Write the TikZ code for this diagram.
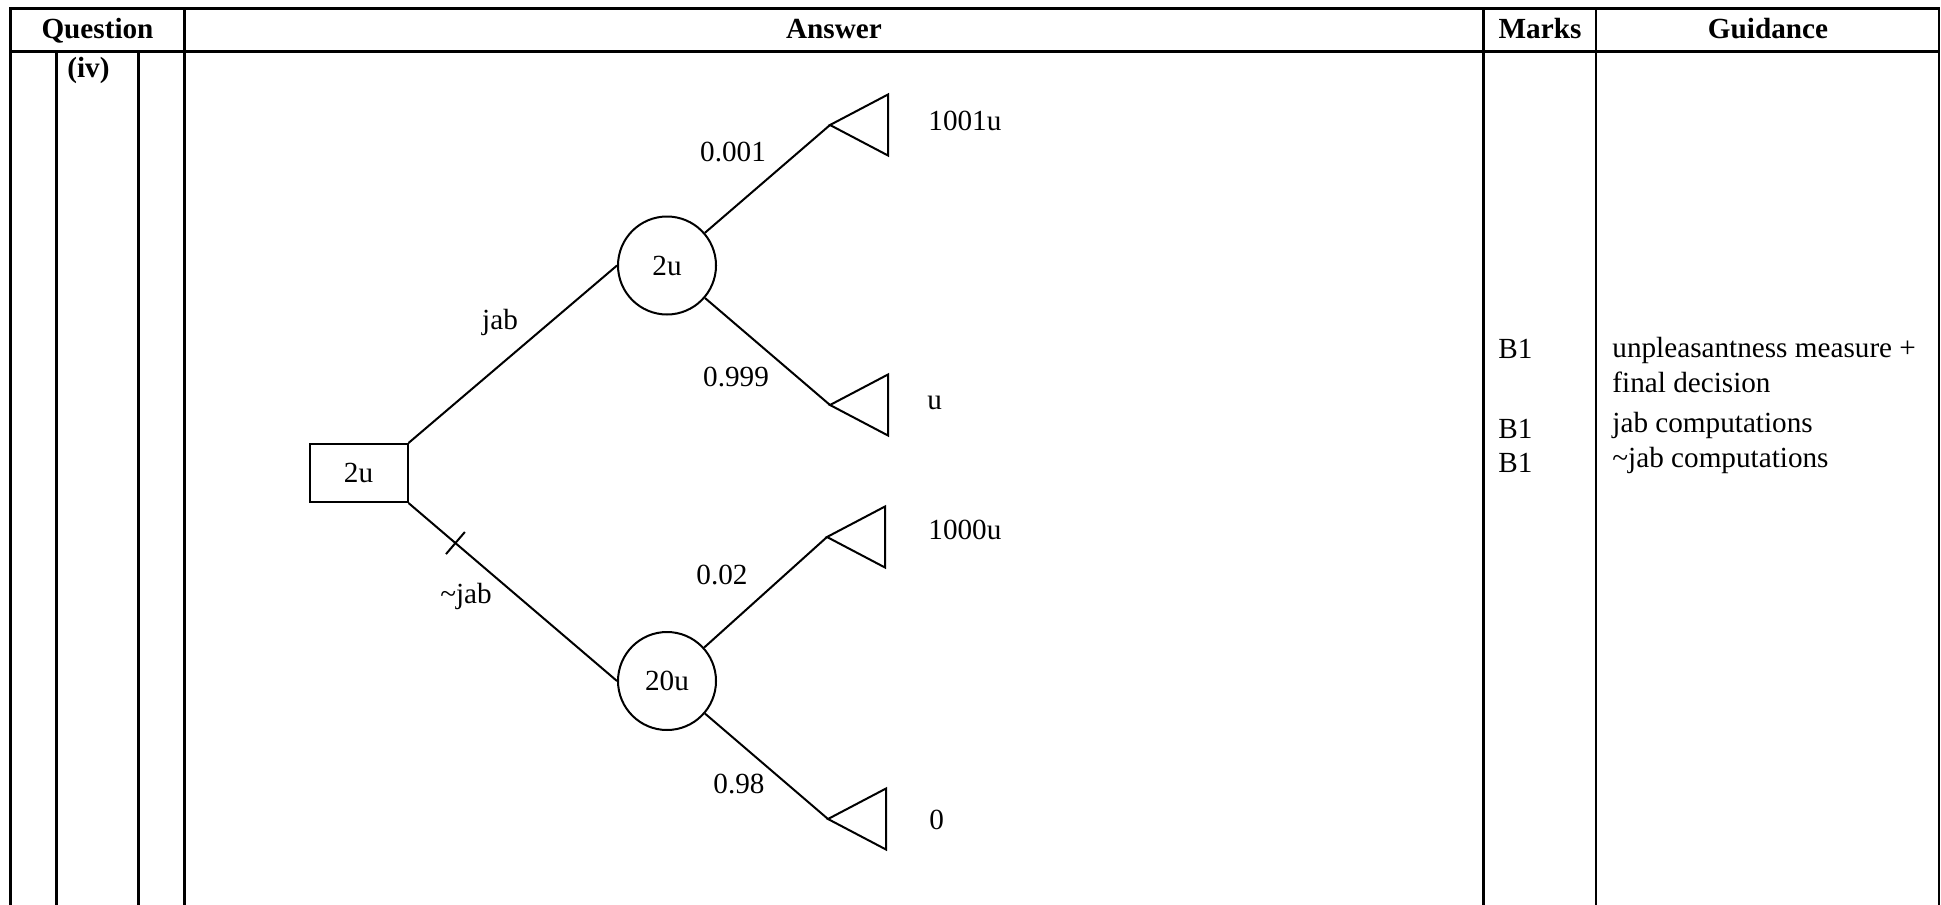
\documentclass[tikz,border=0pt]{standalone}
\usepackage{fontspec}
\setmainfont{Liberation Serif}
\usetikzlibrary{decorations.markings}
\begin{document}
\begin{tikzpicture}[x=0.5pt,y=-0.5pt,
  font=\fontsize{14.6pt}{17pt}\selectfont,
  grid/.style={line width=1.4pt, line cap=rect},
  tree/.style={line width=1pt},
  chance/.style={circle, draw, line width=1pt, minimum size=49pt, inner sep=0pt},
  decision/.style={rectangle, draw, line width=1pt, minimum width=49pt, minimum height=29pt, inner sep=0pt},
  lbl/.style={anchor=base, inner sep=0pt},
  lbll/.style={anchor=base west, inner sep=0pt},
  hdr/.style={anchor=base, inner sep=0pt, font=\fontsize{14.6pt}{17pt}\selectfont\bfseries}]
\useasboundingbox (0,0) rectangle (1941,904);
% table
\draw[grid] (10.5,8.5) -- (1939,8.5);
\draw[grid] (10.5,51.5) -- (1939,51.5);
\foreach \x in {10.5,184.5,1483.5,1596,1939} \draw[grid] (\x,8.5) -- (\x,906);
\foreach \x in {56.5,138.5} \draw[grid] (\x,51.5) -- (\x,906);
% headers
\node[hdr] (hq) at (97.5,39) {Question};
\node[hdr] (ha) at (834,39) {Answer};
\node[hdr] (hm) at (1540,39) {Marks};
\node[hdr] (hg) at (1768,39) {Guidance};
\node[hdr, anchor=base west] (qiv) at (67,78) {(iv)};
% tree nodes
\node[decision] (d) at (358.5,473) {2u};
\node[chance] (c1) at (667,265.5) {2u};
\node[chance] (c2) at (667,681) {20u};
\coordinate (t1) at (830,125);
\coordinate (t2) at (830,405);
\coordinate (t3) at (827,537);
\coordinate (t4) at (828,819);
\foreach \t in {t1,t2,t3,t4}
  \draw[tree, line join=miter] (\t) -- ++(58,-30.5) -- ++(0,61) -- cycle;
% connectors
\draw[tree] (d.north east) -- (c1.west);
\draw[tree, postaction=decorate, decoration={markings, mark=at position 0.225 with {\draw[line width=1pt] (0,-7.25pt) -- (0,7.25pt);}}] (d.south east) -- (c2.west);
\draw[tree] (c1) -- (t1);
\draw[tree] (c1) -- (t2);
\draw[tree] (c2) -- (t3);
\draw[tree] (c2) -- (t4);
% branch labels
\node[lbl] (l1) at (733,162) {0.001};
\node[lbl] (l2) at (500,329) {jab};
\node[lbl] (l3) at (736,386) {0.999};
\node[lbl] (l4) at (466,603) {\textasciitilde jab};
\node[lbl] (l5) at (722,584) {0.02};
\node[lbl] (l6) at (739,793) {0.98};
% payoffs
\node[lbll] (p1) at (928,130) {1001u};
\node[lbll] (p2) at (927,409) {u};
\node[lbll] (p3) at (928,539) {1000u};
\node[lbll] (p4) at (929,829) {0};
% marks
\node[lbll] (m1) at (1498,358) {B1};
\node[lbll] (m2) at (1498,438) {B1};
\node[lbll] (m3) at (1498,472) {B1};
% guidance
\node[lbll] (g1) at (1612,357) {unpleasantness measure +};
\node[lbll] (g2) at (1612,392) {final decision};
\node[lbll] (g3) at (1612,432) {jab computations};
\node[lbll] (g4) at (1612,467) {\textasciitilde jab computations};
\end{tikzpicture}
\end{document}
